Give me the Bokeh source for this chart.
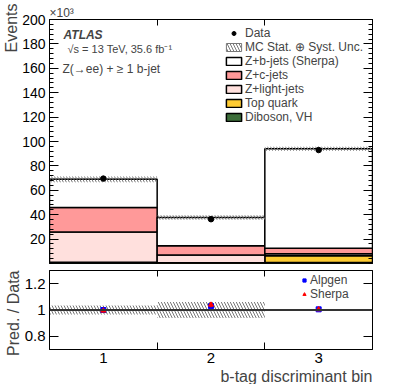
import numpy as np
from bokeh.plotting import figure
from bokeh.models import (FixedTicker, LinearAxis, Label, Legend, LegendItem,
                          Span, ColumnDataSource, Title)
from bokeh.layouts import column
from bokeh.embed import file_html
from bokeh.resources import INLINE

# ---------------- data ----------------
bins = [1, 2, 3]
bin_labels = ["1", "2", "3"]
diboson = [0.5, 0.3, 0.8]
top_quark = [0.6, 0.4, 5.5]
z_light = [24.7, 6.2, 1.7]
z_charm = [20.2, 7.7, 4.6]
z_bjets = [23.0, 23.1, 81.5]
data = [69.6, 36.3, 93.0]
mc_unc = [2.3, 1.8, 1.6]
ratio_unc = [0.035, 0.06, 0.008]
alpgen = [1.0, 1.03, 1.005]
alpgen_err = [0.012, 0.015, 0.008]
sherpa = [0.995, 1.04, 1.005]
sherpa_err = [0.012, 0.02, 0.008]
main_yticks = list(range(20, 201, 20))
main_yminor = list(range(0, 201, 4))
ratio_yticks = [0.8, 1.0, 1.2]

FONT = "Liberation Sans"
c_charm = "#ff9999"
c_light = "#ffe0dd"
c_top = "#ffcc33"
c_dib = "#3d6e3a"
HATCH = dict(hatch_pattern="left_diagonal_line", hatch_color="#777777",
             hatch_scale=6, hatch_weight=1)

x = np.array(bins, dtype=float)
left = x - 0.5
right = x + 0.5
edges_inner = list(left[1:])

comps = [("Diboson, VH", diboson, c_dib),
         ("Top quark", top_quark, c_top),
         ("Z+light-jets", z_light, c_light),
         ("Z+c-jets", z_charm, c_charm),
         ("Z+b-jets (Sherpa)", z_bjets, "white")]

BL, BR = 48, 30


def style_ax(ax, labels=True, ticks=None, minor=None, major_in=9, minor_in=4, fs="14px"):
    ax.ticker = FixedTicker(ticks=ticks, minor_ticks=minor or [])
    ax.major_tick_in = major_in
    ax.major_tick_out = 0
    ax.minor_tick_in = minor_in
    ax.minor_tick_out = 0
    ax.axis_line_color = "black"
    ax.major_tick_line_color = "black"
    ax.minor_tick_line_color = "black"
    ax.major_label_text_font = FONT
    ax.major_label_text_font_size = fs
    ax.major_label_text_color = "black"
    ax.major_label_standoff = 4
    if not labels:
        ax.major_label_overrides = {t: "" for t in ticks}
        ax.major_label_standoff = 0


def side_title(fig, text, offset, place="left"):
    fig.add_layout(Title(text=text, align="right", text_font=FONT,
                         text_font_size="16px", text_font_style="normal",
                         standoff=0, offset=offset), place)


# ---------------- main panel ----------------
p = figure(frame_width=323, frame_height=244, x_range=(0.5, 3.5), y_range=(0, 200),
           output_backend="svg", toolbar_location=None, x_axis_location=None,
           min_border_left=BL, min_border_right=BR, min_border_top=19, min_border_bottom=3)
p.xgrid.visible = False
p.ygrid.visible = False
p.outline_line_color = "black"
p.outline_line_width = 1

main_left = p.yaxis[0]
style_ax(main_left, True, main_yticks, main_yminor)
side_title(p, "Events", -16)
ry = LinearAxis()
style_ax(ry, False, main_yticks, main_yminor)
p.add_layout(ry, "right")
tx = LinearAxis()
style_ax(tx, False, edges_inner, [], major_in=6, minor_in=0)
p.add_layout(tx, "above")
p.add_layout(Title(text="\u00d710\u00b3", align="left", text_font=FONT,
                   text_font_size="12px", text_font_style="normal",
                   standoff=0, offset=0), "above")

# legend proxy for the uncertainty band: zero-height box at the first bin's MC total
first_total = float(sum(c[1][0] for c in comps))
unc_leg = p.quad(left=left[:1], right=right[:1], bottom=[first_total], top=[first_total],
                 fill_color="white", line_color="#777777", line_width=1, **HATCH)

bottom = np.zeros(3)
renderers = {}
for name, vals, col in comps:
    v = np.array(vals)
    src = ColumnDataSource(dict(left=left, right=right, bottom=bottom, top=bottom + v))
    rr = p.quad(left="left", right="right", bottom="bottom", top="top", source=src,
                fill_color=col, line_color="black", line_width=1.5)
    renderers[name] = rr
    bottom = bottom + v
mc_total = bottom

unc_src = ColumnDataSource(dict(left=left, right=right,
                                bottom=mc_total - np.array(mc_unc),
                                top=mc_total + np.array(mc_unc)))
p.quad(left="left", right="right", bottom="bottom", top="top", source=unc_src,
       fill_alpha=0, line_alpha=0, **HATCH)

data_r = p.scatter(x=bins, y=data, size=5.5, marker="circle", color="black")

items = [LegendItem(label="Data", renderers=[data_r]),
         LegendItem(label="MC Stat. \u2295 Syst. Unc.", renderers=[unc_leg])]
for name in ["Z+b-jets (Sherpa)", "Z+c-jets", "Z+light-jets", "Top quark", "Diboson, VH"]:
    items.append(LegendItem(label=name, renderers=[renderers[name]]))
leg = Legend(items=items, location=(175, 139), padding=0, margin=0, spacing=0,
             label_standoff=2, glyph_width=19, glyph_height=10, label_height=14,
             label_text_font_size="12px", label_text_font=FONT,
             background_fill_alpha=0, border_line_alpha=0)
p.add_layout(leg)


def px2x(px):
    return 0.5 + (px - 47) / 107.5


def py2y(py):
    return (263 - py) / 1.2115


p.add_layout(Label(x=px2x(61), y=py2y(36), text="ATLAS", text_font=FONT,
                   text_font_style="bold italic", text_font_size="12px",
                   text_baseline="middle"))
p.add_layout(Label(x=px2x(65), y=py2y(50), text="\u221as = 13 TeV, 35.6 fb\u207b\u00b9",
                   text_font=FONT, text_font_size="11px", text_baseline="middle"))
p.add_layout(Label(x=px2x(60), y=py2y(70), text="Z(\u2192ee) + \u2265 1 b-jet",
                   text_font=FONT, text_font_size="12px", text_baseline="middle"))

# ---------------- ratio panel ----------------
r = figure(frame_width=323, frame_height=79, x_range=p.x_range, y_range=(0.7, 1.3),
           output_backend="svg", toolbar_location=None,
           min_border_left=BL, min_border_right=BR, min_border_top=4, min_border_bottom=34)
r.xgrid.visible = False
r.ygrid.visible = False
r.outline_line_color = "black"

ratio_left = r.yaxis[0]
ratio_bottom = r.xaxis[0]
style_ax(ratio_left, True, ratio_yticks, [], fs="15px")
side_title(r, "Pred. / Data", 0)
rry = LinearAxis()
style_ax(rry, False, ratio_yticks, [])
r.add_layout(rry, "right")
rtx = LinearAxis()
style_ax(rtx, False, edges_inner, [], major_in=6, minor_in=0)
r.add_layout(rtx, "above")

xa = ratio_bottom
xa.ticker = FixedTicker(ticks=bins, minor_ticks=edges_inner)
xa.major_label_overrides = {b: l for b, l in zip(bins, bin_labels)}
xa.major_tick_in = 0
xa.major_tick_out = 0
xa.minor_tick_in = 7
xa.minor_tick_out = 0
xa.minor_tick_line_color = "black"
xa.major_label_text_font = FONT
xa.major_label_text_font_size = "15px"
xa.major_label_text_color = "black"
xa.major_label_standoff = 3
xa.axis_line_color = "black"
side_title(r, "b-tag discriminant bin", 0, place="below")

runc_src = ColumnDataSource(dict(left=left, right=right,
                                 bottom=1 - np.array(ratio_unc),
                                 top=1 + np.array(ratio_unc)))
r.quad(left="left", right="right", bottom="bottom", top="top", source=runc_src,
       fill_alpha=0, line_alpha=0, **HATCH)
r.add_layout(Span(location=1.0, dimension="width", line_color="#333333", line_width=2))

a = np.array(alpgen); ae = np.array(alpgen_err)
s = np.array(sherpa); se = np.array(sherpa_err)
r.segment(x0=bins, x1=bins, y0=a - ae, y1=a + ae, line_color="blue", line_width=1.5)
ar = r.scatter(x=bins, y=alpgen, marker="square", size=5, color="blue")
r.segment(x0=bins, x1=bins, y0=s - se, y1=s + se, line_color="red", line_width=1.5)
sr = r.scatter(x=bins, y=sherpa, marker="triangle", size=5, color="red")

rleg = Legend(items=[LegendItem(label="Alpgen", renderers=[ar]),
                     LegendItem(label="Sherpa", renderers=[sr])],
              location=(251, 48), padding=0, margin=0, spacing=0, label_standoff=2,
              glyph_width=8, glyph_height=10, label_height=13,
              label_text_font_size="12px", label_text_font=FONT,
              background_fill_alpha=0, border_line_alpha=0)
r.add_layout(rleg)

layout = column(p, r, spacing=0)
open("out.html", "w").write(file_html(layout, INLINE))
